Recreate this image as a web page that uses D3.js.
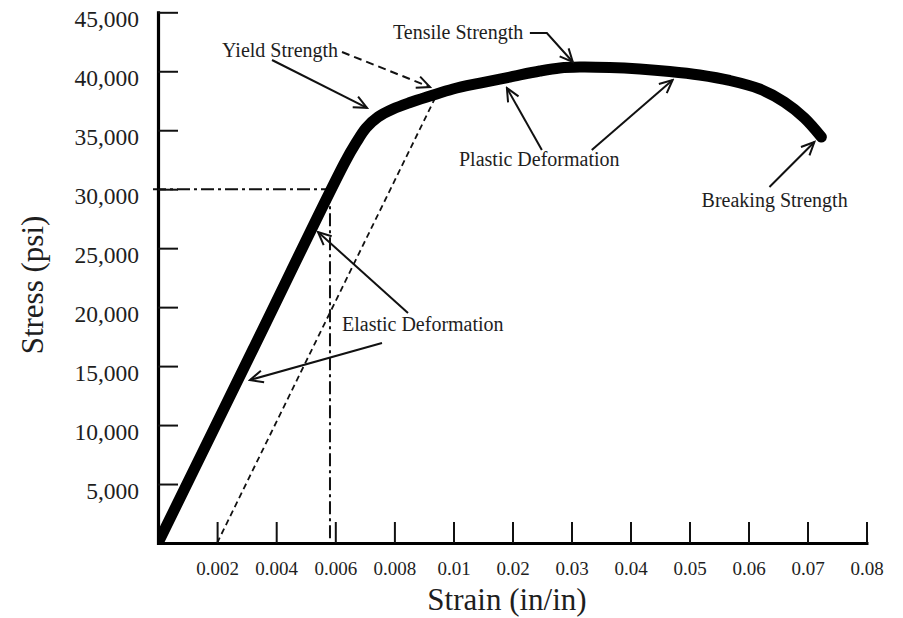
<!DOCTYPE html>
<html>
<head>
<meta charset="utf-8">
<script src="https://cdn.jsdelivr.net/npm/d3@7"></script>
<style>
  html, body { margin: 0; padding: 0; background: #fff; }
  svg { display: block; }
  text { font-family: "Liberation Serif", "Times New Roman", serif; fill: #1e1e1e; }
</style>
</head>
<body>
<svg id="chart" width="903" height="618"></svg>
<script>
// ---------------- DATA ----------------
// Stress-strain curve (strain in in/in, stress in psi)
const strain = [0, 0.0032, 0.006328, 0.0067, 0.007039, 0.007445, 0.007953, 0.008528, 0.009205, 0.009983,
                0.01448, 0.01956, 0.02464, 0.02802, 0.03140, 0.03648, 0.04156, 0.04663,
                0.05171, 0.05679, 0.06186, 0.06609, 0.06948, 0.07235];
const stress = [0, 16340, 32300, 33920, 35190, 36120, 36800, 37350, 37900, 38500,
                39000, 39510, 40020, 40280, 40360, 40320, 40190, 39980,
                39680, 39220, 38500, 37390, 36040, 34430];

// 0.2% offset line
const offsetStrain = [0.002, 0.00943];
const offsetStress = [0, 38000];

// reference point (dash-dot guides)
const refStrain = 0.00582;
const refStress = 30000;

// axis ticks
const xTickValues = [0.002, 0.004, 0.006, 0.008, 0.01, 0.02, 0.03, 0.04, 0.05, 0.06, 0.07, 0.08];
const xTickLabels = ["0.002", "0.004", "0.006", "0.008", "0.01", "0.02", "0.03", "0.04", "0.05", "0.06", "0.07", "0.08"];
const yTickValues = [5000, 10000, 15000, 20000, 25000, 30000, 35000, 40000, 45000];
const yTickLabels = ["5,000", "10,000", "15,000", "20,000", "25,000", "30,000", "35,000", "40,000", "45,000"];

// annotation labels: text and anchor (strain, stress) of left baseline
const labelTexts   = ["Yield Strength", "Tensile Strength", "Plastic Deformation", "Breaking Strength", "Elastic Deformation"];
const labelStrain  = [0.002166, 0.007953, 0.01093, 0.05205, 0.006227];
const labelStress  = [41208, 42734, 31966, 28489, 17975];

// annotation arrows: polylines in (strain, stress), last point is the tip
const arrowPaths = [
  [[0.003858, 40954], [0.007073, 36900]],
  [[0.006227, 41632], [0.009205, 38664]],
  [[0.022944, 43243], [0.025821, 43243], [0.030220, 40784]],
  [[0.024975, 33322], [0.019052, 38579]],
  [[0.033435, 33322], [0.04714, 39258]],
  [[0.06355, 30185], [0.07117, 34001]],
  [[0.00846, 19502], [0.005415, 26370]],
  [[0.00758, 16958], [0.003113, 13821]]
];
const arrowDashed = [false, true, false, false, false, false, false, false];

// ---------------- LAYOUT ----------------
const svg = d3.select("#chart");
const x0 = 158, xMid = 453.5, x1 = 866.5;
const yBottom = 543, yTop = 12.3;

const x = d3.scaleLinear().domain([0, 0.01, 0.08]).range([x0, xMid, x1]);
const y = d3.scaleLinear().domain([0, 45000]).range([yBottom, yTop]);

svg.append("rect").attr("width", 903).attr("height", 618).attr("fill", "#fff");

const defs = svg.append("defs");
defs.append("marker")
  .attr("id", "arrow")
  .attr("markerUnits", "userSpaceOnUse")
  .attr("viewBox", "-16 -8 18 16")
  .attr("refX", 0).attr("refY", 0)
  .attr("markerWidth", 18).attr("markerHeight", 16)
  .attr("orient", "auto")
  .append("path")
  .attr("d", "M-13,-6 L0,0 L-13,6")
  .attr("fill", "none")
  .attr("stroke", "#111")
  .attr("stroke-width", 2)
  .attr("stroke-linejoin", "miter");

defs.append("clipPath").attr("id", "plotClip")
  .append("rect")
  .attr("x", x0 - 1).attr("y", 0)
  .attr("width", 903 - x0).attr("height", yBottom + 1);

// dash-dot guide lines
const guide = svg.append("g").attr("stroke", "#111").attr("stroke-width", 2)
  .attr("stroke-dasharray", "13,4,3,4").attr("fill", "none");
guide.append("line")
  .attr("x1", x(0) - 5).attr("y1", y(refStress))
  .attr("x2", x(refStrain)).attr("y2", y(refStress));
guide.append("line")
  .attr("x1", x(refStrain)).attr("y1", y(refStress))
  .attr("x2", x(refStrain)).attr("y2", y(0));

// offset dashed line
svg.append("line")
  .attr("x1", x(offsetStrain[0])).attr("y1", y(offsetStress[0]))
  .attr("x2", x(offsetStrain[1])).attr("y2", y(offsetStress[1]))
  .attr("stroke", "#111").attr("stroke-width", 1.8)
  .attr("stroke-dasharray", "6,4");

// axes
const xAxis = d3.axisBottom(x)
  .tickValues(xTickValues)
  .tickFormat((d, i) => xTickLabels[i])
  .tickSizeInner(-21).tickSizeOuter(0).tickPadding(0);
const gx = svg.append("g").attr("transform", `translate(0,${yBottom})`).call(xAxis);
gx.select(".domain").attr("stroke", "#000").attr("stroke-width", 3).attr("stroke-linecap", "square");
gx.selectAll(".tick line").attr("stroke", "#111").attr("stroke-width", 2);
gx.selectAll(".tick text")
  .attr("y", 32).attr("dy", 0)
  .attr("font-size", "19px")
  .attr("font-family", "Liberation Serif, serif")
  .attr("fill", "#2a2a2a");

const yAxis = d3.axisLeft(y)
  .tickValues(yTickValues)
  .tickFormat((d, i) => yTickLabels[i])
  .tickSizeInner(-20).tickSizeOuter(0).tickPadding(19);
const gy = svg.append("g").attr("transform", `translate(${x0},0)`).call(yAxis);
gy.select(".domain").attr("stroke", "#000").attr("stroke-width", 3.2).attr("stroke-linecap", "square");
gy.selectAll(".tick line").attr("stroke", "#111").attr("stroke-width", 2);
gy.selectAll(".tick text")
  .attr("dy", 14)
  .attr("font-size", "23.5px")
  .attr("font-family", "Liberation Serif, serif")
  .attr("fill", "#2a2a2a");

// main stress-strain curve
const curveData = strain.map((s, i) => [s, stress[i]]);
const line = d3.line().x(d => x(d[0])).y(d => y(d[1])).curve(d3.curveCatmullRom.alpha(0.5));
svg.append("path")
  .datum(curveData)
  .attr("d", line)
  .attr("clip-path", "url(#plotClip)")
  .attr("fill", "none")
  .attr("stroke", "#000")
  .attr("stroke-width", 11)
  .attr("stroke-linecap", "round")
  .attr("stroke-linejoin", "round");

// arrows
const arrowLine = d3.line().x(d => x(d[0])).y(d => y(d[1]));
arrowPaths.forEach((pts, i) => {
  svg.append("path")
    .attr("d", arrowLine(pts))
    .attr("fill", "none")
    .attr("stroke", "#111")
    .attr("stroke-width", 2)
    .attr("stroke-dasharray", arrowDashed[i] ? "8,5" : null)
    .attr("marker-end", "url(#arrow)");
});

// annotation labels
labelTexts.forEach((t, i) => {
  svg.append("text")
    .attr("x", x(labelStrain[i]))
    .attr("y", y(labelStress[i]))
    .attr("font-size", "20px")
    .attr("fill", "#222")
    .text(t);
});

// axis titles
svg.append("text")
  .attr("transform", `translate(43,285) rotate(-90)`)
  .attr("text-anchor", "middle")
  .attr("font-size", "31px")
  .attr("fill", "#1a1a1a")
  .text("Stress (psi)");

svg.append("text")
  .attr("x", 507).attr("y", 610)
  .attr("text-anchor", "middle")
  .attr("font-size", "31px")
  .attr("fill", "#1a1a1a")
  .text("Strain (in/in)");
</script>
</body>
</html>
